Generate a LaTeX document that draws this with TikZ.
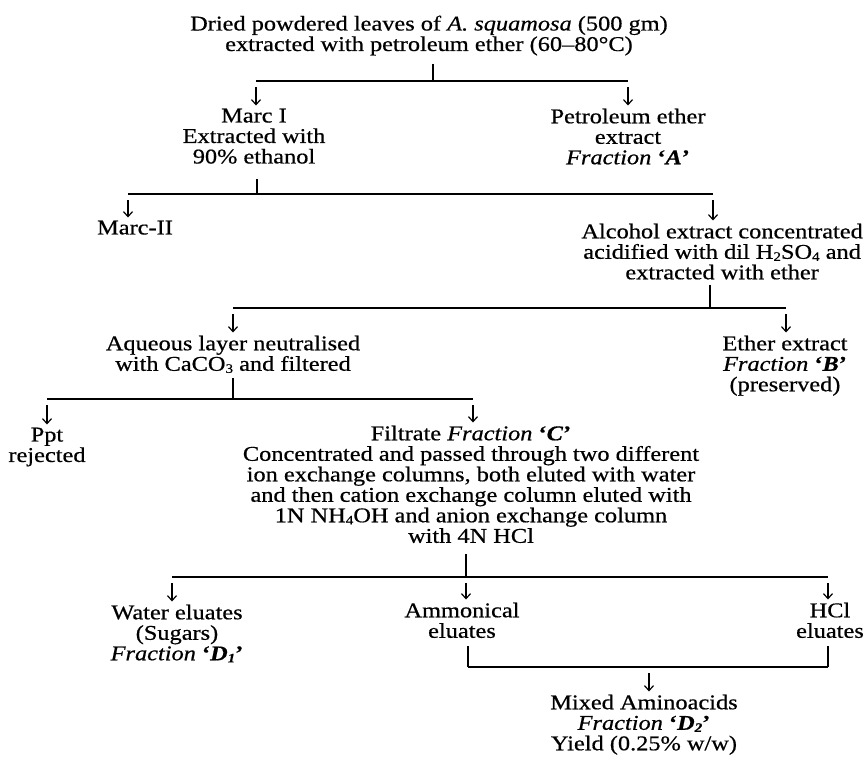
\documentclass[tikz,border=0pt]{standalone}
\usepackage{fontspec}
\setmainfont[FakeStretch=1.16,FakeBold=0.6]{Liberation Serif}
\usetikzlibrary{arrows.meta}
\setlength{\lineskiplimit}{-30pt}
\newcommand{\sbs}[1]{\raisebox{-0.1em}{\fontsize{13}{13}\selectfont #1}}
\newcommand{\frlabel}[1]{\textit{Fraction} \textbf{‘}\textbf{\textit{#1}}\textbf{’}}
\begin{document}
\begin{tikzpicture}[x=1pt,y=-1pt,
  txt/.style={inner sep=0pt, align=center, anchor=north,
    font=\fontsize{21}{20.5}\selectfont},
  ln/.style={line width=1.3pt},
  stemline/.style={line width=1.3pt, shorten <=#1},
  arr/.style={line width=1.2pt, -{Straight Barb[length=5pt,width=9pt]}, shorten <=6pt, shorten >=3pt}]
\useasboundingbox (0,0) rectangle (865,756);

% level 0
\node[txt] (top) at (429,15.5) {Dried powdered leaves of \textit{A. squamosa} (500 gm)\\extracted with petroleum ether (60--80°C)};
\coordinate (j1) at (433,81);
\coordinate (b1l) at (256,81);
\coordinate (b1r) at (628,81);
\node[txt] (marcI) at (254,108.5) {Marc I\\Extracted with\\90\% ethanol};
\node[txt] (pet) at (628,108.5) {Petroleum ether\\extract\\\frlabel{A}};
\draw[stemline=8pt] (j1 |- top.south) -- (j1);
\draw[ln] (b1l) -- (b1r);
\draw[arr] (b1l) -- (b1l |- marcI.north);
\draw[arr] (b1r) -- (b1r |- pet.north);

% level 1
\coordinate (j2) at (257,194);
\coordinate (b2l) at (128,194);
\coordinate (b2r) at (713,194);
\node[txt] (marc2) at (135,220.5) {Marc-II};
\node[txt, anchor=north east] (alc) at (863,223.5) {Alcohol extract concentrated\\acidified with dil H\sbs{2}SO\sbs{4} and\\extracted with ether};
\draw[stemline=15pt] (j2 |- marcI.south) -- (j2);
\draw[ln] (b2l) -- (b2r);
\draw[arr] (b2l) -- (b2l |- marc2.north);
\draw[arr] (b2r) -- (b2r |- alc.north);

% level 2
\coordinate (j3) at (710,308);
\coordinate (b3l) at (233,308);
\coordinate (b3r) at (786,308);
\node[txt] (aq) at (233,335.5) {Aqueous layer neutralised\\with CaCO\sbs{3} and filtered};
\node[txt] (eth) at (785,335.5) {Ether extract\\\frlabel{B}\\(preserved)};
\draw[stemline=5pt] (j3 |- alc.south) -- (j3);
\draw[ln] (b3l) -- (b3r);
\draw[arr] (b3l) -- (b3l |- aq.north);
\draw[arr] (b3r) -- (b3r |- eth.north);

% level 3
\coordinate (j4) at (233,399);
\coordinate (b4l) at (47,399);
\coordinate (b4r) at (473,399);
\node[txt] (ppt) at (47,427.5) {Ppt\\rejected};
\node[txt] (filt) at (471,425.5) {Filtrate \frlabel{C}\\Concentrated and passed through two different\\ion exchange columns, both eluted with water\\and then cation exchange column eluted with\\1N NH\sbs{4}OH and anion exchange column\\with 4N HCl};
\draw[stemline=5pt] (j4 |- aq.south) -- (j4);
\draw[ln] (b4l) -- (b4r);
\draw[arr] (b4l) -- (b4l |- ppt.north);
\draw[arr] (b4r) -- (b4r |- filt.north);

% level 4
\coordinate (j5) at (466,577);
\coordinate (b5l) at (172,577);
\coordinate (b5r) at (828,577);
\node[txt] (water) at (177,604.5) {Water eluates\\(Sugars)\\\frlabel{D\sbs{1}}};
\node[txt] (amm) at (462,602.5) {Ammonical\\eluates};
\node[txt, anchor=north east] (hcl) at (864,602.5) {HCl\\eluates};
\draw[stemline=11pt] (j5 |- filt.south) -- (j5);
\draw[ln] (b5l) -- (b5r);
\draw[arr] (b5l) -- (b5l |- water.north);
\draw[arr] (j5) -- (j5 |- amm.north);
\draw[arr] (b5r) -- (b5r |- hcl.north);

% level 5
\coordinate (b6l) at (468,667);
\coordinate (b6r) at (828,667);
\coordinate (j6) at (649,667);
\node[txt] (mixed) at (644,694.5) {Mixed Aminoacids\\\frlabel{D\sbs{2}}\\Yield (0.25\% w/w)};
\draw[stemline=8pt] (b6l |- amm.south) -- (b6l);
\draw[stemline=8pt] (b6r |- hcl.south) -- (b6r);
\draw[ln] (b6l) -- (b6r);
\draw[arr] (j6) -- (j6 |- mixed.north);
\end{tikzpicture}
\end{document}
